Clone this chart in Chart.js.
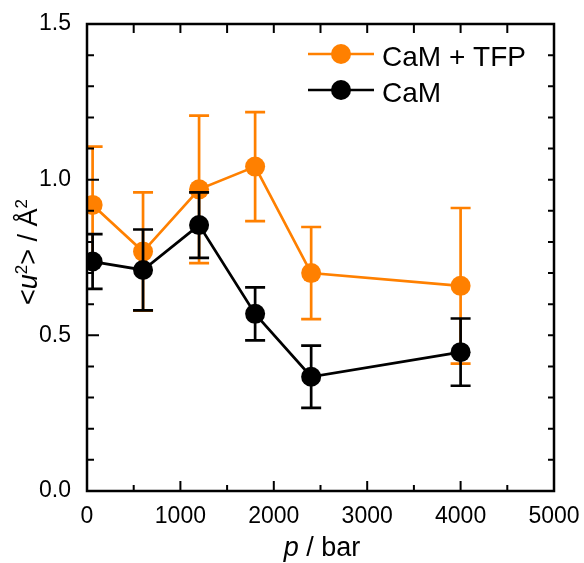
<!DOCTYPE html>
<html>
<head>
<meta charset="utf-8">
<script src="https://cdn.jsdelivr.net/npm/chart.js@4/dist/chart.umd.min.js"></script>
<style>
  html, body { margin: 0; padding: 0; background: #fff; }
  #wrap { width: 584px; height: 563px; position: relative; }
</style>
</head>
<body>
<div id="wrap"><canvas id="c" width="584" height="563"></canvas></div>
<script>
// ---- data ----
const pressure = [60, 600, 1200, 1800, 2400, 4000];
const tfpLabel = 'CaM + TFP';
const tfpU2 = [0.919, 0.769, 0.969, 1.042, 0.700, 0.659];
const tfpErr = [0.187, 0.190, 0.237, 0.175, 0.148, 0.250];
const camLabel = 'CaM';
const camU2 = [0.737, 0.710, 0.854, 0.569, 0.367, 0.446];
const camErr = [0.088, 0.130, 0.105, 0.085, 0.100, 0.108];
const xMin = 0, xMax = 5000, xStep = 1000, xMinorStep = 500;
const yMin = 0, yMax = 1.5, yStep = 0.5, yMinorStep = 0.1;

const ORANGE = '#ff8000';
const BLACK = '#000000';
const FONT = '"Liberation Sans", Arial, Helvetica, sans-serif';

function pts(ys) { return pressure.map((p, i) => ({ x: p, y: ys[i] })); }

const errorBars = {
  id: 'errorBars',
  beforeDatasetDraw(chart, args) {
    const ds = chart.data.datasets[args.index];
    if (!ds.errors) return;
    const ctx = chart.ctx, ys = chart.scales.y, a = chart.chartArea;
    ctx.save();
    ctx.beginPath();
    ctx.rect(a.left, a.top, a.right - a.left, a.bottom - a.top);
    ctx.clip();
    ctx.strokeStyle = ds.borderColor;
    ctx.lineWidth = 2.7;
    const cap = 10;
    args.meta.data.forEach((el, i) => {
      const v = ds.data[i].y, e = ds.errors[i];
      const x = el.x;
      const yt = ys.getPixelForValue(v + e), yb = ys.getPixelForValue(v - e);
      ctx.beginPath();
      ctx.moveTo(x, yt); ctx.lineTo(x, yb);
      ctx.moveTo(x - cap, yt); ctx.lineTo(x + cap, yt);
      ctx.moveTo(x - cap, yb); ctx.lineTo(x + cap, yb);
      ctx.stroke();
    });
    ctx.restore();
  }
};

const frameAndExtras = {
  id: 'frameAndExtras',
  afterDraw(chart) {
    const ctx = chart.ctx, a = chart.chartArea, xs = chart.scales.x, ys = chart.scales.y;
    ctx.save();
    ctx.strokeStyle = '#000';
    // ticks
    ctx.lineWidth = 2;
    ctx.beginPath();
    for (let v = xMin; v <= xMax + 1e-9; v += xMinorStep) {
      const px = xs.getPixelForValue(v);
      const major = Math.abs(v % xStep) < 1e-6;
      ctx.moveTo(px, a.bottom); ctx.lineTo(px, a.bottom - (major ? 10 : 6));
      ctx.moveTo(px, a.top); ctx.lineTo(px, a.top + 9);
    }
    for (let k = 0; k <= Math.round((yMax - yMin) / yMinorStep); k++) {
      const v = yMin + k * yMinorStep;
      const py = ys.getPixelForValue(v);
      const major = k % Math.round(yStep / yMinorStep) === 0;
      ctx.moveTo(a.left, py); ctx.lineTo(a.left + (major ? 12 : 7), py);
      ctx.moveTo(a.right, py); ctx.lineTo(a.right - 6, py);
    }
    ctx.stroke();
    // frame
    ctx.lineWidth = 2.5;
    ctx.strokeRect(a.left, a.top, a.right - a.left, a.bottom - a.top);

    // legend
    const items = [chart.data.datasets[1], chart.data.datasets[0]];
    const baselines = [65.5, 101.5];
    items.forEach((ds, i) => {
      const cy = baselines[i] - 11.5;
      ctx.strokeStyle = ds.borderColor;
      ctx.fillStyle = ds.backgroundColor;
      ctx.lineWidth = 2.7;
      ctx.beginPath(); ctx.moveTo(308, cy); ctx.lineTo(374, cy); ctx.stroke();
      ctx.beginPath(); ctx.arc(341, cy, 10, 0, Math.PI * 2); ctx.fill();
      ctx.fillStyle = '#000';
      ctx.font = '28px ' + FONT;
      ctx.textBaseline = 'alphabetic';
      ctx.textAlign = 'left';
      ctx.fillText(ds.label, 382, baselines[i]);
    });

    // x title: "p / bar"
    ctx.fillStyle = '#000';
    ctx.textBaseline = 'alphabetic';
    ctx.textAlign = 'left';
    const fN = '27px ' + FONT, fI = 'italic 27px ' + FONT;
    ctx.font = fI; const wP = ctx.measureText('p').width;
    ctx.font = fN; const wR = ctx.measureText(' / bar').width;
    let x0 = 322 - (wP + wR) / 2;
    ctx.font = fI; ctx.fillText('p', x0, 556);
    ctx.font = fN; ctx.fillText(' / bar', x0 + wP, 556);

    // y title: "<u²> / Å²"
    const fS = '17px ' + FONT;
    const parts = [
      { t: '<', f: fN, dy: 0 },
      { t: 'u', f: fI, dy: 0 },
      { t: '2', f: fS, dy: -10 },
      { t: '> / Å', f: fN, dy: 0 },
      { t: '2', f: fS, dy: -10 }
    ];
    let total = 0;
    parts.forEach(p => { ctx.font = p.f; p.w = ctx.measureText(p.t).width; total += p.w; });
    ctx.translate(36.5, 252);
    ctx.rotate(-Math.PI / 2);
    let cx = -total / 2;
    parts.forEach(p => { ctx.font = p.f; ctx.fillText(p.t, cx, p.dy); cx += p.w; });
    ctx.restore();
  }
};

new Chart(document.getElementById('c'), {
  type: 'scatter',
  data: {
    datasets: [
      {
        label: camLabel, data: pts(camU2), errors: camErr,
        borderColor: BLACK, backgroundColor: BLACK,
        showLine: true, borderWidth: 2.7, pointRadius: 10, pointHoverRadius: 10,
        pointBorderWidth: 0, order: 0, clip: 0
      },
      {
        label: tfpLabel, data: pts(tfpU2), errors: tfpErr,
        borderColor: ORANGE, backgroundColor: ORANGE,
        showLine: true, borderWidth: 2.7, pointRadius: 10, pointHoverRadius: 10,
        pointBorderWidth: 0, order: 1, clip: 0
      }
    ]
  },
  options: {
    responsive: false,
    animation: false,
    layout: { padding: { left: 0, right: 30, top: 24, bottom: 0 } },
    plugins: { legend: { display: false }, tooltip: { enabled: false } },
    scales: {
      x: {
        type: 'linear', min: xMin, max: xMax,
        grid: { display: false }, border: { display: false },
        ticks: {
          stepSize: xStep, autoSkip: false, maxRotation: 0, padding: 4,
          color: '#000', font: { size: 23, family: FONT },
          callback: v => String(v)
        },
        afterFit(s) { s.height = 72; }
      },
      y: {
        type: 'linear', min: yMin, max: yMax,
        grid: { display: false }, border: { display: false },
        ticks: {
          stepSize: yStep, padding: 8, color: '#000',
          font: { size: 23, family: FONT },
          callback: v => Number(v).toFixed(1)
        },
        afterFit(s) { s.width = 87; }
      }
    }
  },
  plugins: [errorBars, frameAndExtras]
});
</script>
</body>
</html>
